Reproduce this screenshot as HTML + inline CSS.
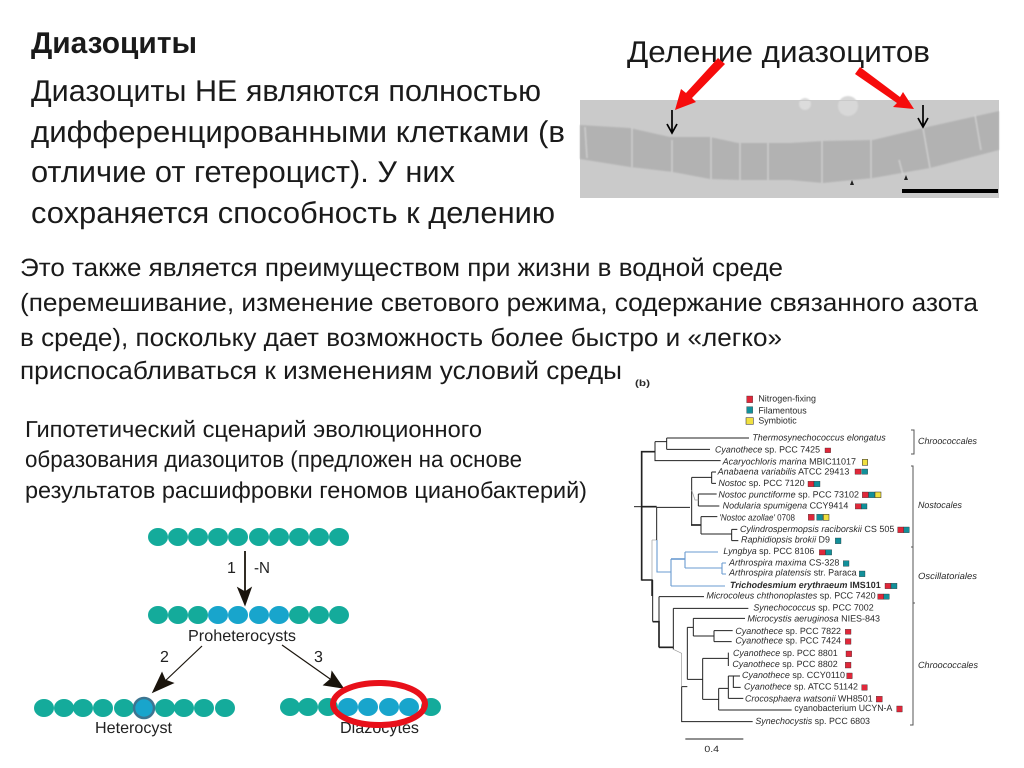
<!DOCTYPE html>
<html><head><meta charset="utf-8"><style>
html,body{margin:0;padding:0;background:#fff}
svg{display:block;text-rendering:geometricPrecision}
.t{font-family:"Liberation Sans",sans-serif;fill:#1a1a1a}
.s text{font-family:"Liberation Sans",sans-serif;fill:#2a2a2a;font-size:27px}
.s .i{font-style:italic}
.d path{fill:none;stroke:#222;stroke-width:3}
.d path.k{stroke-width:5}
.d path.g{stroke:#999;stroke-width:2}
.r{fill:#e0283a;stroke:#222;stroke-width:1}
.e{fill:#12909a;stroke:#222;stroke-width:1}
.y{fill:#f0e040;stroke:#222;stroke-width:1.5}
</style></head><body>
<svg width="1024" height="768" viewBox="0 0 1024 768" xmlns="http://www.w3.org/2000/svg">
<defs><filter id="bl" x="-2%" y="-2%" width="104%" height="104%"><feGaussianBlur stdDeviation="0.8"/></filter></defs>
<rect width="1024" height="768" fill="#fff"/>
<g class="t">
<text x="31" y="53" font-size="30" font-weight="bold" textLength="166" lengthAdjust="spacingAndGlyphs">Диазоциты</text>
<text x="31" y="101" font-size="30" textLength="510" lengthAdjust="spacingAndGlyphs">Диазоциты НЕ являются полностью</text>
<text x="31" y="142" font-size="30" textLength="534" lengthAdjust="spacingAndGlyphs">дифференцированными клетками (в</text>
<text x="31" y="182" font-size="30" textLength="424" lengthAdjust="spacingAndGlyphs">отличие от гетероцист). У них</text>
<text x="31" y="223" font-size="30" textLength="524" lengthAdjust="spacingAndGlyphs">сохраняется способность к делению</text>
<text x="627" y="62" font-size="30" textLength="303" lengthAdjust="spacingAndGlyphs">Деление диазоцитов</text>
<text x="20" y="276" font-size="25" textLength="763" lengthAdjust="spacingAndGlyphs">Это также является преимуществом при жизни в водной среде</text>
<text x="20" y="311" font-size="25" textLength="958" lengthAdjust="spacingAndGlyphs">(перемешивание, изменение светового режима, содержание связанного азота</text>
<text x="20" y="346" font-size="25" textLength="762" lengthAdjust="spacingAndGlyphs">в среде), поскольку дает возможность более быстро и «легко»</text>
<text x="20" y="379" font-size="25" textLength="602" lengthAdjust="spacingAndGlyphs">приспосабливаться к изменениям условий среды</text>
<text x="25" y="437" font-size="23" textLength="457" lengthAdjust="spacingAndGlyphs">Гипотетический сценарий эволюционного</text>
<text x="25" y="467" font-size="23" textLength="497" lengthAdjust="spacingAndGlyphs">образования диазоцитов (предложен на основе</text>
<text x="25" y="498" font-size="23" textLength="562" lengthAdjust="spacingAndGlyphs">результатов расшифровки геномов цианобактерий)</text>
</g>

<!-- micrograph -->
<rect x="580" y="100" width="419" height="98" fill="#cacaca"/>
<g filter="url(#bl)">
<path d="M580 125L630 128L670 137L710 137L738 143L790 143L823 141L873 140L923 128L999 111V150L930 168L873 178L823 183L790 180L740 180L710 179L673 172L630 167L580 159Z" fill="#b2b2b2"/>
<g stroke="#d8d8d8" stroke-width="1" fill="none">
<path d="M632 128V167M672 140V172M711 137V179M740 143V180M768 143V180M822 141V183M871 140V178M923 128L930 168M899 160L903 175M975 115L981 150M585 127L587 158"/>
</g>
<circle cx="805" cy="104" r="6" fill="#dcdcdc"/><ellipse cx="848" cy="106" rx="10" ry="10" fill="#d8d8d8"/>
</g>
<rect x="580" y="100" width="419" height="1" fill="#cacaca"/>
<rect x="902" y="189" width="96" height="4" fill="#000"/>
<path d="M850 185l2-5 2 5zM904 180l2-5 2 5z" fill="#222"/>
<g stroke="#000" stroke-width="1.7" fill="none">
<path d="M672 110V133M667 124L672 133L677 124M923 105V127M918 118L923 127L928 118"/>
</g>
<g fill="#f60c0c">
<path d="M718 58L725 64L692 98L696 102L675 110L681 89L686 93Z"/>
<path d="M860 67L855 74L897 103L893 107L914 109L903 92L900 97Z"/>
</g>

<!-- cells -->
<g fill="#14ab9b">
<ellipse cx="158" cy="537" rx="10" ry="9"/><ellipse cx="178" cy="537" rx="10" ry="9"/><ellipse cx="198" cy="537" rx="10" ry="9"/><ellipse cx="218" cy="537" rx="10" ry="9"/><ellipse cx="238" cy="537" rx="10" ry="9"/><ellipse cx="259" cy="537" rx="10" ry="9"/><ellipse cx="279" cy="537" rx="10" ry="9"/><ellipse cx="299" cy="537" rx="10" ry="9"/><ellipse cx="319" cy="537" rx="10" ry="9"/><ellipse cx="339" cy="537" rx="10" ry="9"/>
<ellipse cx="158" cy="615" rx="10" ry="9"/><ellipse cx="178" cy="615" rx="10" ry="9"/><ellipse cx="198" cy="615" rx="10" ry="9"/><ellipse cx="299" cy="615" rx="10" ry="9"/><ellipse cx="319" cy="615" rx="10" ry="9"/><ellipse cx="339" cy="615" rx="10" ry="9"/>
<ellipse cx="44" cy="708" rx="10" ry="9"/><ellipse cx="64" cy="708" rx="10" ry="9"/><ellipse cx="83" cy="708" rx="10" ry="9"/><ellipse cx="103" cy="708" rx="10" ry="9"/><ellipse cx="124" cy="708" rx="10" ry="9"/><ellipse cx="165" cy="708" rx="10" ry="9"/><ellipse cx="184" cy="708" rx="10" ry="9"/><ellipse cx="204" cy="708" rx="10" ry="9"/><ellipse cx="225" cy="708" rx="10" ry="9"/>
<ellipse cx="290" cy="707" rx="10" ry="9"/><ellipse cx="308" cy="707" rx="10" ry="9"/><ellipse cx="328" cy="707" rx="10" ry="9"/><ellipse cx="431" cy="707" rx="10" ry="9"/>
</g>
<g fill="#18a5cc">
<ellipse cx="218" cy="615" rx="10" ry="9"/><ellipse cx="238" cy="615" rx="10" ry="9"/><ellipse cx="259" cy="615" rx="10" ry="9"/><ellipse cx="279" cy="615" rx="10" ry="9"/>
<ellipse cx="348" cy="707" rx="10" ry="9"/><ellipse cx="368" cy="707" rx="10" ry="9"/><ellipse cx="389" cy="707" rx="10" ry="9"/><ellipse cx="409" cy="707" rx="10" ry="9"/>
</g>
<circle cx="144" cy="708" r="10" fill="#18a5cc" stroke="#3d7590" stroke-width="2.5"/>
<g stroke="#1a140c" stroke-width="1.2" fill="#1a140c">
<path d="M245 551V595" stroke-width="1.8"/><path d="M238 588L245 592L251 588L245 605Z"/>
<path d="M202 646L163 683"/><path d="M162 673L165 680L173 683L153 692Z"/>
<path d="M282 645L333 681"/><path d="M332 672L331 679L324 685L343 688Z"/>
</g>
<g font-family="'Liberation Sans',sans-serif" fill="#222" font-size="16">
<text x="227" y="573">1</text><text x="254" y="573" textLength="16" lengthAdjust="spacingAndGlyphs">-N</text>
<text x="188" y="641" textLength="108" lengthAdjust="spacingAndGlyphs">Proheterocysts</text><text x="160" y="662">2</text><text x="314" y="662">3</text>
<text x="95" y="733" textLength="77" lengthAdjust="spacingAndGlyphs">Heterocyst</text><text x="340" y="733" textLength="79" lengthAdjust="spacingAndGlyphs">Diazocytes</text>
</g>
<ellipse cx="379" cy="704" rx="46" ry="21" fill="none" stroke="#e8101a" stroke-width="6"/>

<!-- tree left middle (blue clade) -->
<g fill="none">
<path d="M652 540H657M652 540V580" stroke="#aaa" stroke-width=".8"/>
<path d="M657 540V572H671M671 559V586M671 586H725M685 552V568M685 552H718M685 568H722M722 563V574M722 563H726M722 574H726" stroke="#6a9bd0" stroke-width="1.1"/>
<path d="M671 559H685" stroke="#6a9bd0" stroke-width="1.6"/>
<path d="M642 580H652V596" stroke="#222" stroke-width="1.5"/>
</g>

<!-- tree upper -->
<g transform="translate(630,370) scale(.33333)">
<g class="d">
<path class="k" d="M35 600V245H75"/><path d="M12 410H35"/>
<path d="M75 215V272H272M75 215H110M110 204V238M110 204H357M110 238H240"/>
<path class="k" d="M35 410H80"/>
<path d="M80 412H180M80 412V510M185 322V465M185 322H245M245 306V340M245 306H258M245 340H258M205 372V408M205 372H260M205 408H268M213 440V492M213 440H262M213 492H305M305 478V512M305 478H322M305 512H325"/>
<path class="k" d="M183 465H213"/>
<path class="g" d="M185 360L195 390H205"/>
</g>
<g class="s">
<text x="15" y="48" font-weight="bold" font-size="26" textLength="45" lengthAdjust="spacingAndGlyphs">(b)</text>
<text x="385" y="95" textLength="173" lengthAdjust="spacingAndGlyphs">Nitrogen-fixing</text>
<text x="385" y="130" textLength="145" lengthAdjust="spacingAndGlyphs">Filamentous</text>
<text x="385" y="160" textLength="115" lengthAdjust="spacingAndGlyphs">Symbiotic</text>
<text x="367" y="211" class="i" textLength="400" lengthAdjust="spacingAndGlyphs">Thermosynechococcus elongatus</text>
<text x="255" y="247" textLength="315" lengthAdjust="spacingAndGlyphs"><tspan class="i">Cyanothece</tspan> sp. PCC 7425</text>
<text x="278" y="283" textLength="400" lengthAdjust="spacingAndGlyphs"><tspan class="i">Acaryochloris marina</tspan> MBIC11017</text>
<text x="263" y="314" textLength="395" lengthAdjust="spacingAndGlyphs"><tspan class="i">Anabaena variabilis</tspan> ATCC 29413</text>
<text x="265" y="348" textLength="259" lengthAdjust="spacingAndGlyphs"><tspan class="i">Nostoc</tspan> sp. PCC 7120</text>
<text x="265" y="382" textLength="422" lengthAdjust="spacingAndGlyphs"><tspan class="i">Nostoc punctiforme</tspan> sp. PCC 73102</text>
<text x="278" y="416" textLength="377" lengthAdjust="spacingAndGlyphs"><tspan class="i">Nodularia spumigena</tspan> CCY9414</text>
<text x="268" y="451" textLength="227" lengthAdjust="spacingAndGlyphs"><tspan class="i">'Nostoc azollae'</tspan> 0708</text>
<text x="330" y="486" textLength="463" lengthAdjust="spacingAndGlyphs"><tspan class="i">Cylindrospermopsis raciborskii</tspan> CS 505</text>
<text x="333" y="518" textLength="267" lengthAdjust="spacingAndGlyphs"><tspan class="i">Raphidiopsis brokii</tspan> D9</text>
<text x="280" y="552" textLength="273" lengthAdjust="spacingAndGlyphs"><tspan class="i">Lyngbya</tspan> sp. PCC 8106</text>
<text x="297" y="586" textLength="331" lengthAdjust="spacingAndGlyphs"><tspan class="i">Arthrospira maxima</tspan> CS-328</text>
</g>
<rect class="r" x="350" y="78" width="18" height="20"/><rect class="e" x="350" y="110" width="18" height="20"/><rect class="y" x="348" y="143" width="22" height="20"/>
<rect class="r" x="585" y="234" width="17" height="14"/><rect class="y" x="697" y="268" width="16" height="18"/>
<rect class="r" x="675" y="297" width="18" height="16"/><rect class="e" x="695" y="297" width="18" height="16"/>
<rect class="r" x="534" y="334" width="18" height="16"/><rect class="e" x="552" y="334" width="18" height="16"/>
<rect class="r" x="697" y="366" width="18" height="17"/><rect class="e" x="716" y="366" width="18" height="17"/><rect class="y" x="735" y="366" width="18" height="17"/>
<rect class="r" x="676" y="401" width="18" height="16"/><rect class="e" x="694" y="401" width="17" height="16"/>
<rect class="r" x="535" y="433" width="18" height="18"/><rect class="e" x="560" y="433" width="18" height="18"/><rect class="y" x="580" y="433" width="17" height="18"/>
<rect class="r" x="803" y="471" width="18" height="17"/><rect class="e" x="821" y="471" width="17" height="17"/>
<rect class="e" x="616" y="504" width="17" height="17"/>
<rect class="r" x="568" y="539" width="18" height="16"/><rect class="e" x="587" y="539" width="18" height="16"/>
<rect class="e" x="640" y="572" width="17" height="17"/>
</g>

<!-- tree lower -->
<g transform="translate(630,570) scale(.33333)">
<g class="d">
<path class="k" d="M35 0V32"/>
<path d="M68 30V155"/><path class="k" d="M68 155H87V232"/>
<path d="M87 80V232M87 80H222"/><path class="k" d="M87 232H130"/>
<path d="M130 115V238M130 115H355M155 350V455H368"/><path class="g" d="M130 238L155 250V350"/>
<path d="M155 350H172M172 172V328M172 172H190M190 145V198M190 145H345M190 198H252M252 182V215M252 182H308M252 215H305"/>
<path d="M172 328H218M218 265V388M218 265H295M295 248V288M218 388H266M266 355V420M266 420H485M266 355H295M295 318V385M295 318H330M310 318V352H332M295 385H340"/>
<path d="M166 507H340"/>
</g>
<g class="s">
<text x="297" y="16" textLength="383" lengthAdjust="spacingAndGlyphs"><tspan class="i">Arthrospira platensis</tspan> str. Paraca</text>
<text x="300" y="54" font-weight="bold" textLength="452" lengthAdjust="spacingAndGlyphs"><tspan class="i">Trichodesmium erythraeum</tspan> IMS101</text>
<text x="229" y="86" textLength="508" lengthAdjust="spacingAndGlyphs"><tspan class="i">Microcoleus chthonoplastes</tspan> sp. PCC 7420</text>
<text x="370" y="122" textLength="361" lengthAdjust="spacingAndGlyphs"><tspan class="i">Synechococcus</tspan> sp. PCC 7002</text>
<text x="352" y="154" textLength="398" lengthAdjust="spacingAndGlyphs"><tspan class="i">Microcystis aeruginosa</tspan> NIES-843</text>
<text x="316" y="192" textLength="317" lengthAdjust="spacingAndGlyphs"><tspan class="i">Cyanothece</tspan> sp. PCC 7822</text>
<text x="316" y="220" textLength="317" lengthAdjust="spacingAndGlyphs"><tspan class="i">Cyanothece</tspan> sp. PCC 7424</text>
<text x="309" y="258" textLength="314" lengthAdjust="spacingAndGlyphs"><tspan class="i">Cyanothece</tspan> sp. PCC 8801</text>
<text x="307" y="291" textLength="316" lengthAdjust="spacingAndGlyphs"><tspan class="i">Cyanothece</tspan> sp. PCC 8802</text>
<text x="336" y="324" textLength="309" lengthAdjust="spacingAndGlyphs"><tspan class="i">Cyanothece</tspan> sp. CCY0110</text>
<text x="342" y="359" textLength="342" lengthAdjust="spacingAndGlyphs"><tspan class="i">Cyanothece</tspan> sp. ATCC 51142</text>
<text x="345" y="394" textLength="383" lengthAdjust="spacingAndGlyphs"><tspan class="i">Crocosphaera watsonii</tspan> WH8501</text>
<text x="493" y="423" textLength="294" lengthAdjust="spacingAndGlyphs">cyanobacterium UCYN-A</text>
<text x="376" y="462" textLength="344" lengthAdjust="spacingAndGlyphs"><tspan class="i">Synechocystis</tspan> sp. PCC 6803</text>
<text x="223" y="546" textLength="44" lengthAdjust="spacingAndGlyphs">0.4</text>
</g>
<rect class="e" x="688" y="3" width="17" height="17"/>
<rect class="r" x="765" y="40" width="18" height="16"/><rect class="e" x="783" y="40" width="18" height="16"/>
<rect class="r" x="743" y="72" width="18" height="16"/><rect class="e" x="761" y="72" width="17" height="16"/>
<rect class="r" x="646" y="178" width="17" height="15" stroke="none"/><rect class="r" x="646" y="206" width="17" height="17"/>
<rect class="r" x="648" y="243" width="17" height="17"/><rect class="r" x="646" y="277" width="17" height="17"/>
<rect class="r" x="650" y="309" width="17" height="17"/><rect class="r" x="695" y="344" width="17" height="17"/>
<rect class="r" x="739" y="379" width="18" height="17"/><rect class="r" x="800" y="408" width="17" height="18"/>
</g>

<!-- brackets & group labels -->
<g fill="none" stroke="#555" stroke-width="1">
<path d="M911 430H914V454H911M911 466H913V547H911M913 547V603M913 603V725H910M913 603H915"/>
</g>
<g font-family="'Liberation Sans',sans-serif" font-style="italic" fill="#2a2a2a" font-size="9">
<text x="918" y="444" textLength="59" lengthAdjust="spacingAndGlyphs">Chroococcales</text>
<text x="918" y="508" textLength="44" lengthAdjust="spacingAndGlyphs">Nostocales</text>
<text x="918" y="579" textLength="59" lengthAdjust="spacingAndGlyphs">Oscillatoriales</text>
<text x="918" y="668" textLength="60" lengthAdjust="spacingAndGlyphs">Chroococcales</text>
</g>
</svg>
</body></html>
